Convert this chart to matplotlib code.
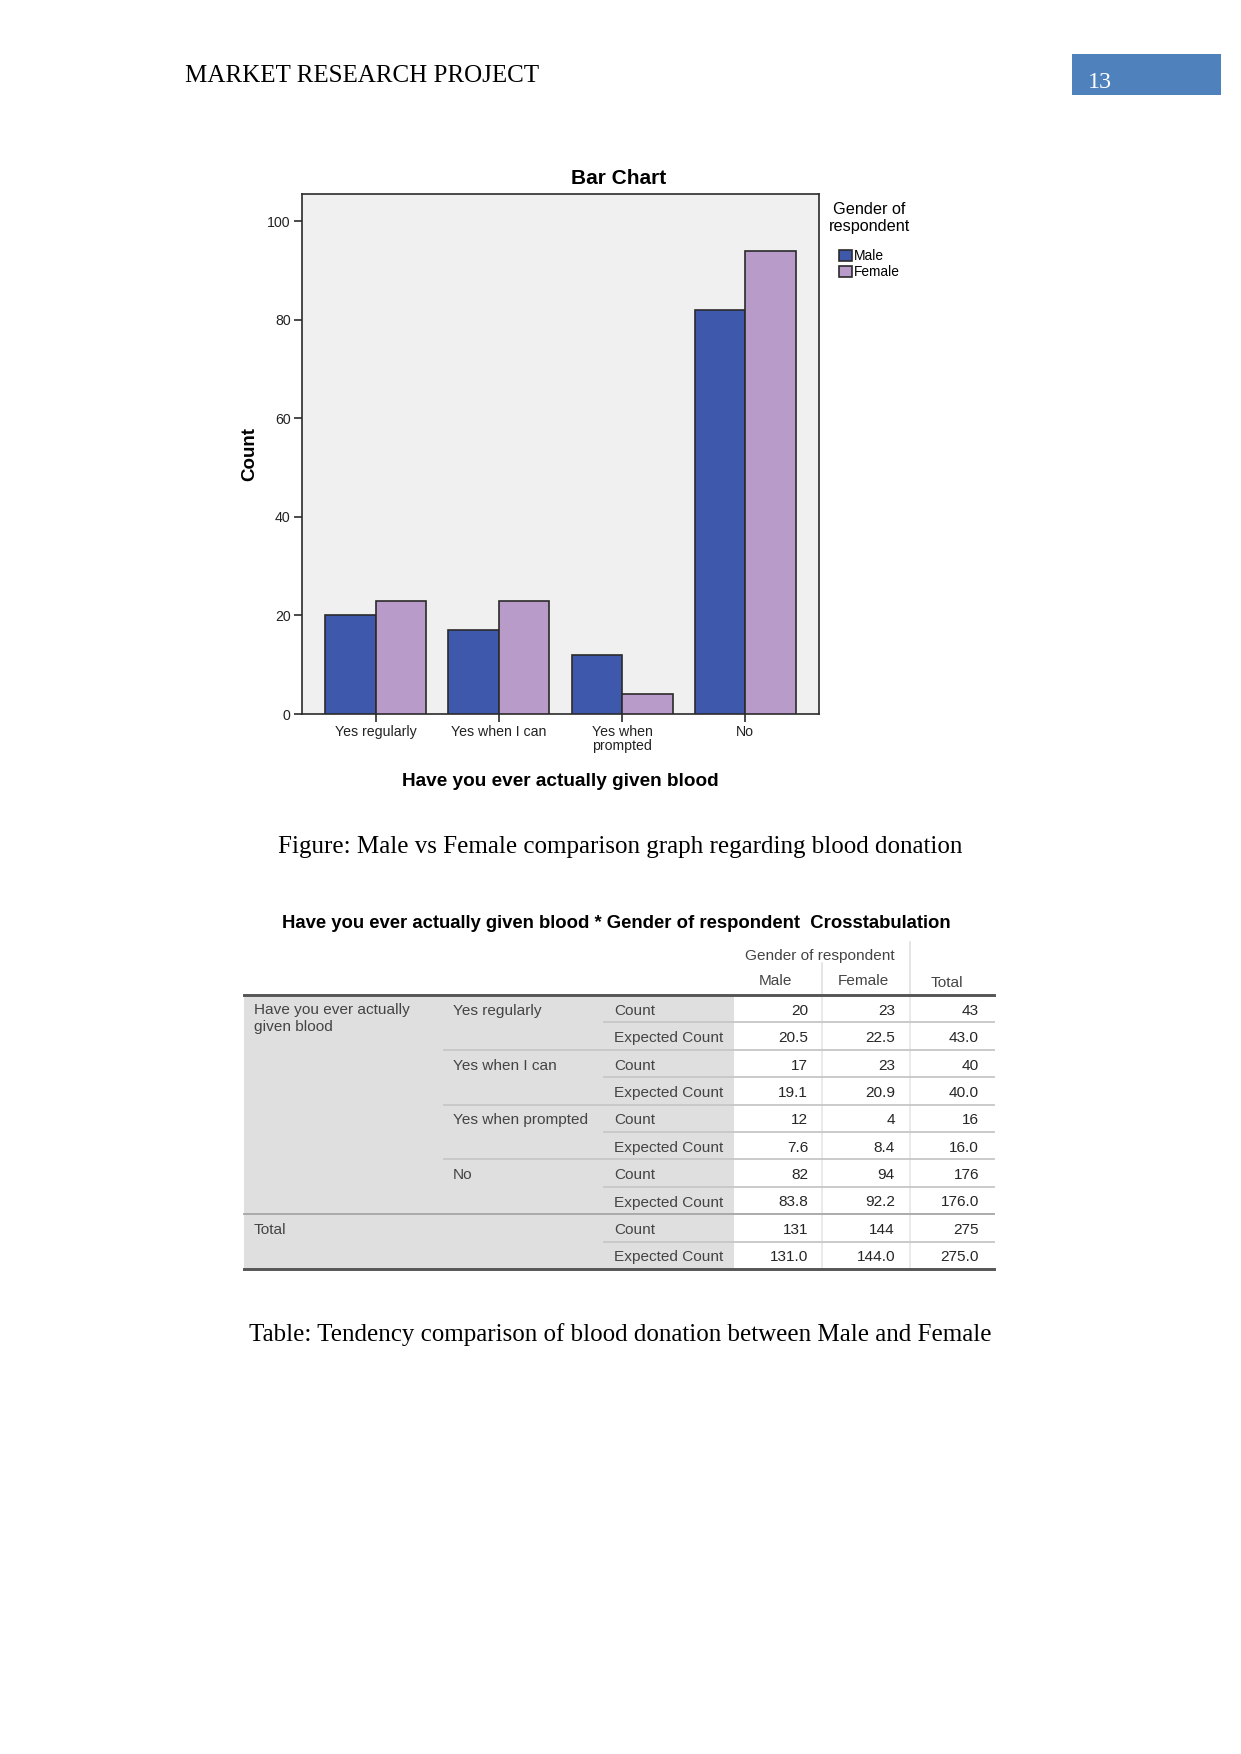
import matplotlib
matplotlib.use("Agg")
import matplotlib.pyplot as plt
import numpy as np

W, H = 1241, 1754
DPI = 150

# data
categories = ["Yes regularly", "Yes when I can", "Yes when\nprompted", "No"]
row_names = ["Yes regularly", "Yes when I can", "Yes when prompted", "No"]
genders = ["Male", "Female"]
male = [20, 17, 12, 82]
female = [23, 23, 4, 94]
exp_male = [20.5, 19.1, 7.6, 83.8]
exp_female = [22.5, 20.9, 8.4, 92.2]

MALE_C = "#3E58AC"
FEMALE_C = "#B99BC9"
SANS = ["Liberation Sans", "DejaVu Sans"]
SERIF = ["Liberation Serif", "DejaVu Serif"]

fig = plt.figure(figsize=(W / DPI, H / DPI), dpi=DPI)
fig.patch.set_facecolor("white")

# overlay in pixel coords for page text and the table
pg = fig.add_axes([0, 0, 1, 1], zorder=0)
pg.set_xlim(0, W)
pg.set_ylim(H, 0)
pg.axis("off")

# page header
pg.text(185, 76, "MARKET RESEARCH PROJECT", family=SERIF, fontsize=12,
        ha="left", va="center", color="black")
pg.add_patch(plt.Rectangle((1072, 54), 149, 41, color="#4F81BD", lw=0))
pg.text(1088, 82, "13", family=SERIF, fontsize=11.5, ha="left", va="center",
        color="white")

# ---- bar chart ----
ax = fig.add_axes([302 / W, 1 - 714 / H, 517 / W, 520 / H], zorder=2)
x = np.arange(len(categories))
w = 0.41
ax.bar(x - w / 2, male, w, color=MALE_C, edgecolor="#2b2b2b", lw=0.8,
       label=genders[0], zorder=3)
ax.bar(x + w / 2, female, w, color=FEMALE_C, edgecolor="#2b2b2b", lw=0.8,
       label=genders[1], zorder=3)
ax.set_xlim(-0.6, 3.6)
ax.set_ylim(0, 105.5)
ax.set_facecolor("#F0F0F0")
for s in ax.spines.values():
    s.set_color("#2b2b2b")
    s.set_linewidth(0.8)
ax.set_yticks([0, 20, 40, 60, 80, 100])
ax.set_xticks(x)
ax.set_xticklabels(categories, family=SANS, fontsize=6.8, linespacing=0.95)
for lab in ax.get_yticklabels():
    lab.set_family(SANS)
ax.tick_params(axis="both", direction="out", length=4, width=0.8,
               color="#2b2b2b", labelsize=6.8, labelcolor="#222222", pad=1.5)
fig.text(619 / W, 1 - 178 / H, "Bar Chart", family=SANS, fontsize=10,
         weight="bold", ha="center", va="center")
ax.set_xlabel("Have you ever actually given blood", family=SANS, fontsize=9.1,
              weight="bold", labelpad=9.5)
ax.set_ylabel("Count", family=SANS, fontsize=9, weight="bold", labelpad=4)
leg = ax.legend(title="Gender of\nrespondent", loc="upper left",
                bbox_to_anchor=(829 / W, 1 - 202 / H),
                bbox_transform=fig.transFigure, frameon=False, borderpad=0,
                borderaxespad=0, handlelength=0.9, handleheight=0.9,
                handletextpad=0.15, labelspacing=0.15,
                prop={"family": SANS, "size": 6.6},
                title_fontproperties={"family": SANS, "size": 7.8})
leg.get_title().set_multialignment("center")
leg._legend_box.sep = 7

# ---- caption 1 ----
pg.text(620, 847, "Figure: Male vs Female comparison graph regarding blood donation",
        family=SERIF, fontsize=12, ha="center", va="center")

# ---- crosstab table ----
cols = [244, 444, 604, 734, 822, 910, 994]
num_right = [808, 895, 979]
top = 995
rh = 27.4
nrows = 2 * (len(row_names) + 1)
bottom = top + rh * nrows
TXT = "#444444"
fs = 7.4
dy = 2.0  # text sits a little below the row centre

pg.text(616, 924, "Have you ever actually given blood * Gender of respondent  Crosstabulation",
        family=SANS, fontsize=8.9, weight="bold", ha="center", va="center")
pg.text(820, 956, "Gender of respondent", family=SANS, fontsize=fs,
        ha="center", va="center", color=TXT)
hdr_x = [775, 863, 947]
for i, lab in enumerate(genders + ["Total"]):
    pg.text(hdr_x[i], 981 if i < 2 else 983, lab, family=SANS, fontsize=fs,
            ha="center", va="center", color=TXT)
pg.plot([cols[4], cols[4]], [963, top], color="#e0e0e0", lw=0.8)
pg.plot([cols[5], cols[5]], [942, top], color="#e0e0e0", lw=0.8)

pg.add_patch(plt.Rectangle((cols[0], top), cols[3] - cols[0], rh * nrows,
                           color="#DFDFDF", lw=0))
pg.plot([cols[4], cols[4]], [top, bottom], color="#e6e6e6", lw=0.8)
pg.plot([cols[5], cols[5]], [top, bottom], color="#e6e6e6", lw=0.8)

tot_m = sum(male)
tot_f = sum(female)
rows = []
for i, name in enumerate(row_names):
    rows.append(("Count", [f"{male[i]}", f"{female[i]}", f"{male[i] + female[i]}"]))
    rows.append(("Expected Count", [f"{exp_male[i]:.1f}", f"{exp_female[i]:.1f}",
                                    f"{male[i] + female[i]:.1f}"]))
rows.append(("Count", [f"{tot_m}", f"{tot_f}", f"{tot_m + tot_f}"]))
rows.append(("Expected Count", [f"{tot_m:.1f}", f"{tot_f:.1f}", f"{tot_m + tot_f:.1f}"]))

for r, (stat, vals) in enumerate(rows):
    yc = top + rh * (r + 0.5) + dy
    pg.text(cols[2] + 10, yc, stat, family=SANS, fontsize=fs, ha="left",
            va="center", color=TXT)
    for j, v in enumerate(vals):
        pg.text(num_right[j], yc, v, family=SANS, fontsize=fs, ha="right",
                va="center", color="#262626")
    if r == nrows - 1:
        continue
    yl = top + rh * (r + 1)
    if r % 2 == 0:
        x0, c = cols[2], "#c8c8c8"
    elif r == nrows - 3:
        x0, c = cols[0], "#a8a8a8"
    else:
        x0, c = cols[1], "#c8c8c8"
    pg.plot([x0, cols[6]], [yl, yl], color=c, lw=0.9)

for g, name in enumerate(row_names):
    pg.text(cols[1] + 9, top + rh * (2 * g + 0.5) + dy, name, family=SANS,
            fontsize=fs, ha="left", va="center", color=TXT)
pg.text(cols[0] + 10, top + 8, "Have you ever actually\ngiven blood",
        family=SANS, fontsize=fs, ha="left", va="top", color=TXT,
        linespacing=1.3)
pg.text(cols[0] + 10, top + rh * (nrows - 1.5) + dy, "Total", family=SANS,
        fontsize=fs, ha="left", va="center", color=TXT)

pg.plot([cols[0], cols[6]], [top, top], color="#555555", lw=1.4)
pg.plot([cols[0], cols[6]], [bottom, bottom], color="#555555", lw=1.4)

# ---- caption 2 ----
pg.text(620, 1335, "Table: Tendency comparison of blood donation between Male and Female",
        family=SERIF, fontsize=12, ha="center", va="center")

fig.savefig("out.png", dpi=DPI)
